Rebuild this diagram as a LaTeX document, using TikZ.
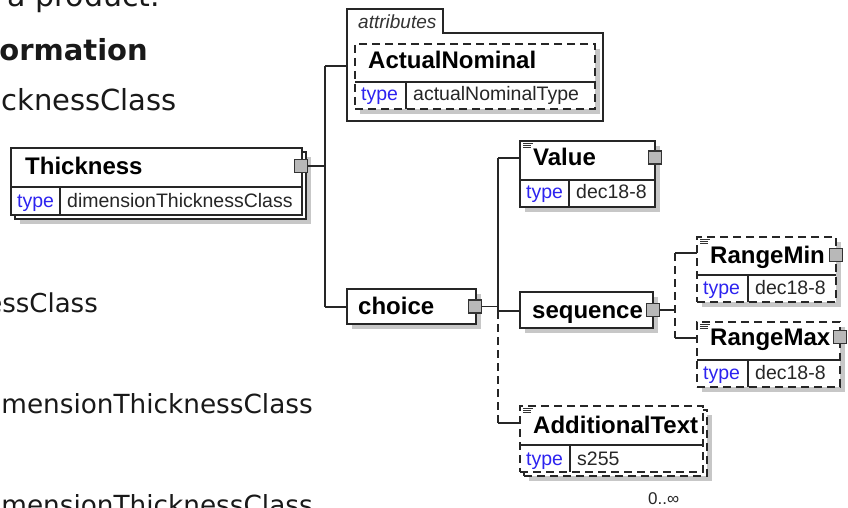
\documentclass[tikz,border=0pt]{standalone}
\usepackage{fontspec}
\setmainfont{Liberation Sans}
\newfontfamily\bgfont{DejaVu Sans}
\definecolor{kwblue}{RGB}{45,35,240}
\begin{document}
\begin{tikzpicture}[x=1pt,y=-1pt,
  ln/.style={draw=black!85, line width=1.3pt},
  elframe/.style={ln, fill=white, inner sep=0pt, outer sep=0pt, anchor=north west},
  optframe/.style={elframe, dash pattern=on 8pt off 5pt},
  elshadow/.style={fill=black!22},
  port/.style={draw=black!80, fill=black!28, line width=1.2pt, minimum size=13pt, inner sep=0pt, outer sep=0pt},
  conn/.style={line width=1.3pt, draw=black!85},
  optconn/.style={conn, dash pattern=on 8pt off 5pt},
  elname/.style={font=\bfseries\fontsize{24}{28}\selectfont, anchor=base west, inner sep=0pt},
  kw/.style={font=\fontsize{19.5}{22}\selectfont, text=kwblue, anchor=base west, inner sep=0pt},
  tval/.style={font=\fontsize{19.5}{22}\selectfont, text=black!85, anchor=base west, inner sep=0pt},
  docicon/.style={line width=0.8pt, draw=black!80},
  bgtext/.style={font=\bgfont\fontsize{26}{30}\selectfont, inner sep=0pt, text=black!90}
]
\fill[white] (0,0) rectangle (848,508);
\useasboundingbox (0,0) rectangle (848,508);

% ---------- background document text (clipped) ----------
\begin{scope}
\clip (0,0) rectangle (848,508);
\node[bgtext, font=\bgfont\fontsize{30}{34}\selectfont, anchor=base west] (t1) at (7,7) {a product.};
\node[bgtext, font=\bgfont\bfseries\fontsize{29}{33}\selectfont, anchor=base east] (t2) at (148,61) {ormation};
\node[bgtext, font=\bgfont\fontsize{29}{33}\selectfont, anchor=base east] (t3) at (177,111) {cknessClass};
\node[bgtext, anchor=base east] (t4) at (98,312) {essClass};
\node[bgtext, font=\bgfont\fontsize{26.3}{30}\selectfont, anchor=base east] (t5) at (313,413) {mensionThicknessClass};
\node[bgtext, font=\bgfont\fontsize{26.3}{30}\selectfont, anchor=base east] (t6) at (313,514) {mensionThicknessClass};
\end{scope}

% ---------- Thickness ----------
\fill[elshadow] (20,157) rectangle (311,224);
\node[elframe, minimum width=291pt, minimum height=67pt] (thback) at (15,152) {};
\node[elframe, minimum width=291pt, minimum height=67pt] (th) at (11,148) {};
\draw[ln] (11,187) -- (302,187);
\draw[ln] (60,187) -- (60,215);
\node[elname] (thname) at (25,174) {Thickness};
\node[kw] (thkw) at (17,207) {type};
\node[tval] (thtype) at (67,207) {dimensionThicknessClass};
\node[port] (thport) at (301,166) {};

% ---------- attributes ----------
\draw[ln, fill=white] (347,121) -- (347,9) -- (443,9) -- (443,33) -- (603,33) -- (603,121) -- cycle;
\node[font=\itshape\fontsize{19}{22}\selectfont, text=black!80, anchor=base west, inner sep=0pt] (attrlabel) at (358,29) {attributes};
\coordinate (attrin) at (347,66);
\fill[elshadow] (360,49) rectangle (600,114);
\node[optframe, minimum width=240pt, minimum height=65pt] (an) at (355,44) {};
\draw[ln] (355,82) -- (595,82);
\draw[ln] (406,82) -- (406,109);
\node[elname] (anname) at (368,69) {ActualNominal};
\node[kw] (ankw) at (361,101) {type};
\node[tval] (antype) at (413,101) {actualNominalType};

% ---------- choice ----------
\fill[elshadow] (352,294) rectangle (481,329);
\node[elframe, minimum width=129pt, minimum height=35pt] (choice) at (347,289) {};
\node[elname] (choicename) at (358,314) {choice};
\node[port] (choiceport) at (475,306.5) {};

% ---------- Value ----------
\fill[elshadow] (525,146) rectangle (660,212);
\node[elframe, minimum width=135pt, minimum height=66pt] (value) at (520,141) {};
\draw[ln] (520,180) -- (655,180);
\draw[ln] (569,180) -- (569,207);
\draw[docicon] (523,143.5) -- ++(10,0) (523,145.5) -- ++(8,0) (523,147.5) -- ++(8,0);
\node[elname] (valuename) at (533,165) {Value};
\node[kw] (valuekw) at (526,198) {type};
\node[tval] (valuetype) at (576,198) {dec18-8};
\node[port] (valueport) at (655,157.5) {};

% ---------- sequence ----------
\fill[elshadow] (525,297) rectangle (658,333);
\node[elframe, minimum width=133pt, minimum height=36pt] (seq) at (520,292) {};
\node[elname] (seqname) at (532,318) {sequence};
\node[port] (seqport) at (653,310) {};

% ---------- RangeMin ----------
\fill[elshadow] (702,242) rectangle (841,307);
\node[optframe, minimum width=139pt, minimum height=65pt] (rmin) at (697,237) {};
\draw[ln] (697,275) -- (836,275);
\draw[ln] (748,275) -- (748,302);
\draw[docicon] (700,239.5) -- ++(10,0) (700,241.5) -- ++(8,0) (700,243.5) -- ++(8,0);
\node[elname] (rminname) at (710,263) {RangeMin};
\node[kw] (rminkw) at (703,294) {type};
\node[tval] (rmintype) at (755,294) {dec18-8};
\node[port] (rminport) at (836,255) {};

% ---------- RangeMax ----------
\fill[elshadow] (702,327) rectangle (845,392);
\node[optframe, minimum width=143pt, minimum height=65pt] (rmax) at (697,322) {};
\draw[ln] (697,360) -- (840,360);
\draw[ln] (748,360) -- (748,387);
\draw[docicon] (700,324.5) -- ++(10,0) (700,326.5) -- ++(8,0) (700,328.5) -- ++(8,0);
\node[elname] (rmaxname) at (710,345) {RangeMax};
\node[kw] (rmaxkw) at (703,379) {type};
\node[tval] (rmaxtype) at (755,379) {dec18-8};
\node[port] (rmaxport) at (840,337) {};

% ---------- AdditionalText ----------
\fill[elshadow] (529,415) rectangle (712,481);
\node[optframe, minimum width=183pt, minimum height=66pt] (atback) at (524,410) {};
\node[optframe, minimum width=183pt, minimum height=66pt] (at) at (520,406) {};
\draw[ln] (520,445) -- (703,445);
\draw[ln] (570,445) -- (570,472);
\draw[docicon] (523,408.5) -- ++(10,0) (523,410.5) -- ++(8,0) (523,412.5) -- ++(8,0);
\node[elname] (atname) at (533,433) {AdditionalText};
\node[kw] (atkw) at (526,465) {type};
\node[tval] (attype) at (577,465) {s255};
\node[font=\fontsize{17}{19}\selectfont, text=black!85, anchor=base west, inner sep=0pt] (atocc) at (648,504) {0..∞};

% ---------- connectors ----------
\coordinate (jA) at (325,66);
\coordinate (jB) at (325,307);
\draw[conn] (thport.east) -- (thport.east -| jA);
\draw[conn] (jA) -- (jB);
\draw[conn] (jA) -- (attrin);
\draw[conn] (jB) -- (jB -| choice.west);

\coordinate (cV) at (498,158);
\coordinate (cS) at (498,311);
\coordinate (cA) at (498,423);
\draw[conn] (choiceport.east) -- (choiceport.east -| cV);
\draw[conn] (cV) -- (cS);
\draw[optconn] (cS) -- (cA);
\draw[conn] (cV) -- (cV -| value.west);
\draw[conn] (cS) -- (cS -| seq.west);
\draw[conn] (cA) -- (cA -| at.west);

\coordinate (sMin) at (675,253);
\coordinate (sMax) at (675,338);
\draw[conn] (seqport.east) -- (seqport.east -| sMin);
\draw[optconn] (sMin) -- (sMax);
\draw[conn] (sMin) -- (sMin -| rmin.west);
\draw[conn] (sMax) -- (sMax -| rmax.west);
\end{tikzpicture}
\end{document}
